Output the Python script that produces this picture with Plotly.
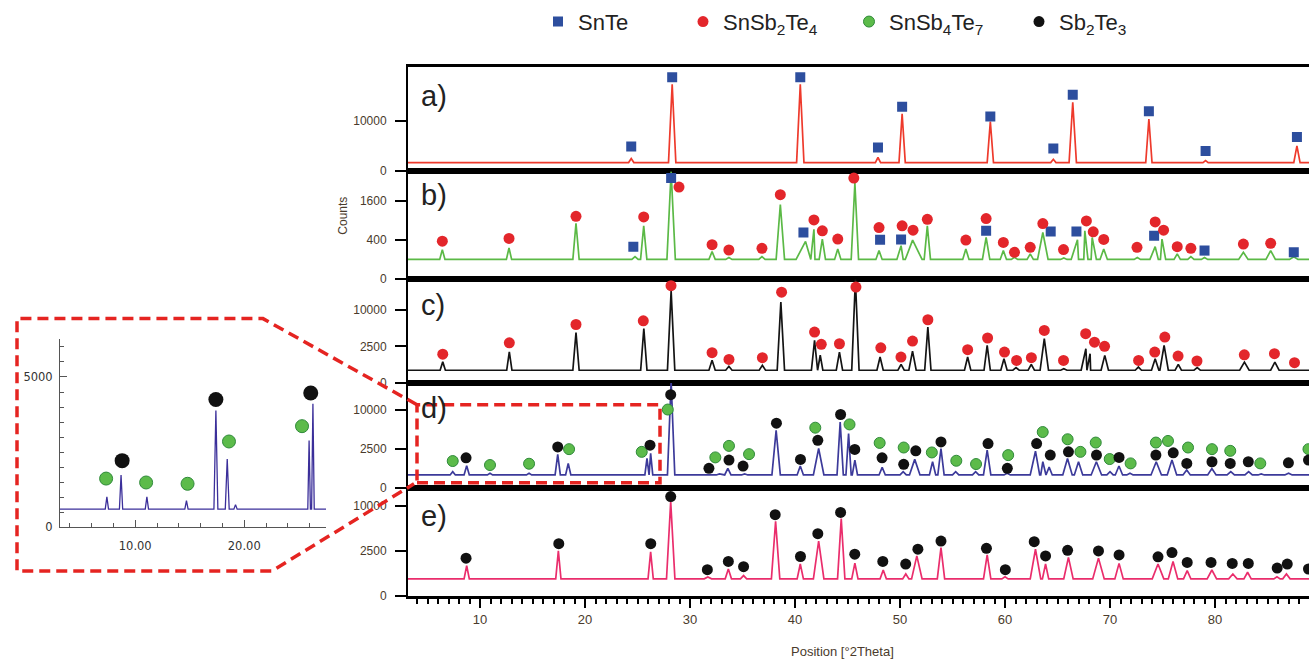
import numpy as np
import plotly.graph_objects as go

W, H = 1309, 666
X_RANGE = [3.14, 88.95]

# ===================== DATA (counts) =====================
# a) SnTe pattern
a_peak_pos = [24.4, 28.3, 40.5, 47.9, 50.2, 58.6, 64.6, 66.45, 73.7, 79.1, 87.8]
a_peak_counts = [625, 29400, 29400, 730, 12800, 9600, 550, 18500, 10600, 440, 2500]
a_peak_halfwidth = [0.25, 0.35, 0.35, 0.25, 0.3, 0.3, 0.25, 0.35, 0.3, 0.25, 0.3]
a_baseline = 290
a_snte_x = [24.4, 28.3, 40.5, 47.9, 50.2, 58.6, 64.6, 66.45, 73.7, 79.1, 87.8]
a_snte_y = [2380, 34300, 34300, 2190, 16200, 11600, 2010, 22700, 14000, 1570, 4570]

# b) pattern
b_peak_pos = [6.41, 12.76, 19.14, 24.76, 25.59, 28.2, 32.1, 33.7, 36.85, 38.6,
              41.0, 41.8, 42.6, 44.07, 45.7, 48.0, 50.1, 51.2, 52.6, 56.27,
              58.2, 59.84, 60.9, 62.4, 63.6, 65.6, 66.9, 67.6, 68.3, 69.4,
              72.6, 74.3, 74.95, 76.4, 77.7, 79.0, 82.7, 85.3, 87.5]
b_peak_counts = [225, 250, 808, 131, 735, 3000, 196, 120, 131, 1445,
                 368, 645, 415, 234, 2400, 210, 290, 393, 735, 234,
                 450, 210, 123, 164, 563, 115, 400, 605, 450, 234,
                 121, 272, 415, 164, 130, 120, 186, 210, 130]
b_peak_halfwidth = [0.25, 0.25, 0.3, 0.3, 0.3, 0.4, 0.3, 0.3, 0.3, 0.4,
                    0.9, 0.3, 0.3, 0.3, 0.35, 0.3, 0.4, 0.9, 0.3, 0.3,
                    0.35, 0.3, 0.3, 0.3, 0.5, 0.3, 0.6, 0.6, 0.4, 0.35,
                    0.3, 0.5, 0.35, 0.3, 0.3, 0.3, 0.45, 0.45, 0.4]
b_baseline = 100
b_snte_x = [24.6, 28.2, 40.8, 48.1, 50.1, 58.2, 64.35, 66.8, 74.2, 79.0, 87.5]
b_snte_y = [272, 2650, 563, 400, 405, 605, 588, 588, 486, 210, 186]
b_snsb2te4_x = [6.41, 12.76, 19.14, 25.59, 28.95, 32.1, 33.7, 36.85, 38.6, 41.8,
                42.6, 44.07, 45.6, 48.0, 50.2, 51.24, 52.6, 56.27, 58.2, 59.84,
                60.9, 62.4, 63.6, 65.57, 67.75, 68.4, 69.4, 72.57, 74.3, 75.1,
                76.4, 77.7, 82.7, 85.3]
b_snsb2te4_y = [373, 429, 1023, 1003, 2200, 307, 219, 245, 1850, 910,
                605, 415, 2650, 690, 735, 620, 927, 394, 949, 349,
                186, 261, 800, 225, 878, 580, 408, 261, 849, 620,
                272, 245, 318, 331]

# c) pattern
c_peak_pos = [6.45, 12.79, 19.14, 25.6, 28.2, 32.1, 33.7, 36.89, 38.65, 41.86,
              42.4, 44.23, 45.75, 48.1, 50.1, 51.19, 52.65, 56.44, 58.3, 59.9,
              61.05, 62.5, 63.74, 65.6, 67.7, 68.1, 69.5, 72.7, 74.3, 75.15,
              76.5, 78.3, 82.8, 85.7, 87.6]
c_peak_counts = [828, 1805, 4750, 5530, 15900, 970, 515, 577, 12200, 3380,
                 1430, 1780, 20000, 1250, 645, 1900, 5830, 1250, 2640, 1100,
                 433, 645, 3650, 380, 2190, 1600, 1420, 472, 1100, 2640,
                 645, 433, 812, 812, 300]
c_peak_halfwidth = [0.25, 0.25, 0.3, 0.3, 0.35, 0.3, 0.3, 0.3, 0.35, 0.3,
                    0.25, 0.3, 0.35, 0.3, 0.3, 0.35, 0.3, 0.3, 0.3, 0.3,
                    0.3, 0.3, 0.4, 0.3, 0.45, 0.3, 0.35, 0.3, 0.35, 0.4,
                    0.3, 0.3, 0.45, 0.4, 0.3]
c_baseline = 300
c_snsb2te4_x = [6.45, 12.79, 19.14, 25.55, 28.19, 32.1, 33.71, 36.89, 38.72, 41.86,
                42.5, 44.23, 45.8, 48.17, 50.09, 51.19, 52.65, 56.44, 58.34, 59.95,
                61.1, 62.51, 63.74, 65.57, 67.68, 68.52, 69.48, 72.72, 74.26, 75.22,
                76.48, 78.28, 82.79, 85.66, 87.57]
c_snsb2te4_y = [1545, 3000, 6380, 7210, 17660, 1710, 1035, 1190, 15400, 4830,
                2780, 2870, 17150, 2310, 1250, 3280, 7460, 2060, 3770, 1780,
                950, 1190, 5150, 950, 4530, 3110, 2500, 950, 1780, 3930,
                1350, 900, 1480, 1600, 767]

# d) pattern
d_peak_pos = [7.4, 8.73, 10.95, 14.67, 17.4, 18.4, 25.9, 26.25, 28.2, 32.8,
              33.6, 35.2, 38.2, 40.5, 42.25, 44.3, 45.1, 45.7, 48.3, 50.3,
              51.4, 53.1, 53.9, 55.3, 57.2, 58.3, 60.2, 62.9, 63.6, 64.2,
              65.95, 67.0, 68.7, 70.0, 70.85, 71.9, 74.4, 75.9, 77.3, 79.7,
              81.5, 83.2, 84.4, 87.0]
d_peak_counts = [425, 796, 346, 346, 1820, 975, 1410, 1930, 18500, 313,
                 622, 313, 5390, 775, 2520, 7050, 4790, 1256, 686, 425,
                 1320, 1110, 2520, 425, 425, 2310, 346, 2190, 1110, 700,
                 1410, 1110, 1110, 425, 775, 346, 1110, 1256, 520, 600,
                 425, 425, 313, 346]
d_peak_halfwidth = [0.25, 0.25, 0.25, 0.25, 0.25, 0.25, 0.2, 0.2, 0.35, 0.3,
                    0.3, 0.3, 0.4, 0.3, 0.5, 0.3, 0.25, 0.25, 0.3, 0.3,
                    0.5, 0.3, 0.3, 0.3, 0.3, 0.35, 0.3, 0.5, 0.3, 0.3,
                    0.45, 0.4, 0.5, 0.3, 0.35, 0.3, 0.5, 0.45, 0.35, 0.4,
                    0.35, 0.35, 0.3, 0.35]
d_baseline = 270
d_sb2te3_x = [8.67, 17.4, 26.19, 28.16, 31.8, 33.71, 35.05, 38.23, 40.52, 42.17,
              44.34, 45.69, 48.29, 50.35, 51.5, 53.9, 58.38, 60.22, 63.01, 64.31,
              66.04, 68.71, 70.86, 74.37, 76.02, 77.31, 79.71, 81.45, 83.17, 86.99, 88.9]
d_sb2te3_y = [1470, 2730, 2960, 14160, 622, 1256, 775, 6830, 1320, 3690,
              8770, 2400, 1470, 900, 2230, 3430, 3200, 622, 3200, 1745,
              2110, 1745, 1510, 1745, 2000, 975, 1110, 975, 1110, 1024, 1256]
d_snsb4te7_x = [7.4, 10.95, 14.67, 18.48, 25.4, 27.88, 32.41, 33.71, 35.62, 41.93,
                45.19, 48.06, 50.35, 53.03, 55.36, 57.24, 60.3, 63.59, 65.96, 67.18,
                68.64, 69.97, 71.96, 74.37, 75.52, 77.43, 79.71, 81.45, 84.31, 88.9]
d_snsb4te7_y = [1170, 847, 946, 2440, 2110, 10000, 1510, 2870, 1850, 5900,
                6560, 3290, 2650, 2040, 1195, 923, 1745, 5080, 3850, 2110,
                3345, 1350, 975, 3345, 3585, 2650, 2440, 2230, 975, 2440]

# e) pattern
e_peak_pos = [8.73, 17.46, 26.25, 28.16, 31.7, 33.65, 35.1, 38.15, 40.5, 42.25,
              44.4, 45.7, 48.4, 50.55, 51.6, 53.9, 58.3, 60.0, 62.9, 63.86,
              66.04, 68.9, 70.86, 74.57, 76.0, 77.35, 79.7, 81.7, 83.1, 85.9, 86.8]
e_peak_counts = [1110, 2480, 2370, 10970, 430, 880, 500, 6850, 1240, 3690,
                 7350, 1315, 816, 585, 1960, 2860, 2060, 440, 2670, 1240,
                 1810, 1745, 1290, 1240, 1450, 773, 816, 585, 677, 440, 585]
e_peak_halfwidth = [0.25, 0.25, 0.25, 0.4, 0.35, 0.3, 0.3, 0.4, 0.3, 0.5,
                    0.35, 0.3, 0.3, 0.3, 0.5, 0.35, 0.35, 0.3, 0.5, 0.3,
                    0.45, 0.55, 0.4, 0.55, 0.45, 0.35, 0.45, 0.4, 0.35, 0.3, 0.35]
e_baseline = 350
e_sb2te3_x = [8.67, 17.5, 26.26, 28.16, 31.65, 33.65, 35.1, 38.11, 40.52, 42.17,
              44.34, 45.69, 48.36, 50.54, 51.7, 53.9, 58.23, 60.03, 62.78, 63.86,
              65.96, 68.9, 70.86, 74.57, 75.9, 77.35, 79.62, 81.64, 83.17, 85.92, 86.88, 88.9]
e_sb2te3_y = [1745, 3350, 3350, 12150, 835, 1450, 1037, 8120, 1900, 4750,
              8580, 2130, 1450, 1240, 2670, 3690, 2780, 835, 3610, 1960,
              2550, 2480, 2060, 1865, 2300, 1370, 1370, 1290, 1290, 947, 1240, 880]

# inset (zoom of d, linear counts)
inset_peak_pos = [7.4, 8.7, 11.07, 14.7, 17.4, 18.44, 19.2, 25.95, 26.3]
inset_peak_counts = [1017, 1742, 1017, 887, 3884, 2272, 757, 2889, 4112]
inset_peak_halfwidth = [0.15, 0.15, 0.15, 0.15, 0.18, 0.18, 0.15, 0.12, 0.12]
inset_baseline = 606
inset_sb2te3_x = [8.8, 17.4, 26.1]
inset_sb2te3_y = [2218, 4252, 4469]
inset_snsb4te7_x = [7.33, 11.0, 14.8, 18.6, 25.3]
inset_snsb4te7_y = [1623, 1493, 1450, 2856, 3365]

a_y_ticks = [0, 10000]
b_y_ticks = [0, 400, 1600]
cde_y_ticks = [0, 2500, 10000]
inset_x_ticks = [10, 20]
inset_y_ticks = [0, 5000]
main_x_ticks = [10, 20, 30, 40, 50, 60, 70, 80]

# ===================== helpers =====================
def px(x):
    return x / W


def py(y):
    return 1 - y / H


def build_profile(pos, counts, halfw, base, lo, hi):
    pts = [(lo, base), (hi, base)]
    for p, c, w in zip(pos, counts, halfw):
        pts.extend([(p - w, base), (p, c), (p + w, base)])
    pts.sort(key=lambda t: t[0])
    return [t[0] for t in pts], [t[1] for t in pts]


PHASE = {
    "SnTe": dict(name="SnTe", legend="legend",
                 marker=dict(symbol="square", size=10, color="#2D4E9E")),
    "SnSb2Te4": dict(name="SnSb<sub>2</sub>Te<sub>4</sub>", legend="legend2",
                     marker=dict(symbol="circle", size=11, color="#E3262B")),
    "SnSb4Te7": dict(name="SnSb<sub>4</sub>Te<sub>7</sub>", legend="legend3",
                     marker=dict(symbol="circle", size=11, color="#5CBB4A",
                                 line=dict(color="#2F8A3A", width=1))),
    "Sb2Te3": dict(name="Sb<sub>2</sub>Te<sub>3</sub>", legend="legend4",
                   marker=dict(symbol="circle", size=11, color="#111111")),
}
shown = set()

TICK_COLOR = "#4a3b2c"
FONT = "Arial, Liberation Sans, sans-serif"

panels = [
    dict(pos=a_peak_pos, cnt=a_peak_counts, hw=a_peak_halfwidth, base=a_baseline,
         color="#EE3A2C", top=68, bot=173, smax=205, ticks=a_y_ticks, label="a)", label_y=97,
         markers=[("SnTe", a_snte_x, a_snte_y)]),
    dict(pos=b_peak_pos, cnt=b_peak_counts, hw=b_peak_halfwidth, base=b_baseline,
         color="#5BB946", top=173, bot=282, smax=55, ticks=b_y_ticks, label="b)", label_y=197,
         markers=[("SnTe", b_snte_x, b_snte_y), ("SnSb2Te4", b_snsb2te4_x, b_snsb2te4_y)]),
    dict(pos=c_peak_pos, cnt=c_peak_counts, hw=c_peak_halfwidth, base=c_baseline,
         color="#141414", top=282, bot=387, smax=142, ticks=cde_y_ticks, label="c)", label_y=308,
         markers=[("SnSb2Te4", c_snsb2te4_x, c_snsb2te4_y)]),
    dict(pos=d_peak_pos, cnt=d_peak_counts, hw=d_peak_halfwidth, base=d_baseline,
         color="#3C3A9A", top=387, bot=493, smax=134, ticks=cde_y_ticks, label="d)", label_y=412,
         markers=[("SnSb4Te7", d_snsb4te7_x, d_snsb4te7_y), ("Sb2Te3", d_sb2te3_x, d_sb2te3_y)]),
    dict(pos=e_peak_pos, cnt=e_peak_counts, hw=e_peak_halfwidth, base=e_baseline,
         color="#EA2D6C", top=493, bot=602, smax=120, ticks=cde_y_ticks, label="e)", label_y=521,
         markers=[("Sb2Te3", e_sb2te3_x, e_sb2te3_y)]),
]

fig = go.Figure()
layout = dict(
    width=W, height=H, autosize=False,
    margin=dict(l=0, r=0, t=0, b=0),
    paper_bgcolor="white", plot_bgcolor="white",
    showlegend=True,
)
annotations = []

for i, pnl in enumerate(panels, start=1):
    xs, ys = build_profile(pnl["pos"], pnl["cnt"], pnl["hw"], pnl["base"], X_RANGE[0] - 1, X_RANGE[1] + 1)
    xa, ya = f"x{i}", f"y{i}"
    fig.add_trace(go.Scatter(x=xs, y=np.sqrt(ys), mode="lines", xaxis=xa, yaxis=ya,
                             line=dict(color=pnl["color"], width=1.7), showlegend=False,
                             hoverinfo="skip"))
    for phase, mx, my in pnl["markers"]:
        st = PHASE[phase]
        fig.add_trace(go.Scatter(x=mx, y=np.sqrt(my), mode="markers", xaxis=xa, yaxis=ya,
                                 marker=st["marker"], name=st["name"], legend=st["legend"],
                                 legendgroup=phase, showlegend=phase not in shown))
        shown.add(phase)
    last = i == len(panels)
    layout[f"xaxis{i}"] = dict(
        domain=[px(408), 1.0], range=X_RANGE, anchor=ya,
        showline=True, mirror=True, linecolor="black", linewidth=2.5,
        showgrid=False, zeroline=False,
        ticks="outside" if last else "", ticklen=10, tickwidth=2, tickcolor="black",
        tickvals=main_x_ticks if last else None,
        showticklabels=last,
        tickfont=dict(family=FONT, size=13, color=TICK_COLOR),
        minor=dict(dtick=1, tick0=0, ticks="outside", ticklen=6, tickwidth=1.5, tickcolor="black") if last else None,
    )
    layout[f"yaxis{i}"] = dict(
        domain=[py(pnl["bot"]), py(pnl["top"])], range=[0, pnl["smax"]], anchor=xa,
        showline=True, linecolor="black", linewidth=2, mirror=False,
        showgrid=False, zeroline=False,
        tickvals=list(np.sqrt(pnl["ticks"])), ticktext=[str(t) for t in pnl["ticks"]],
        ticks="outside", ticklen=11, tickwidth=2, tickcolor="black",
        ticklabelstandoff=6,
        tickfont=dict(family=FONT, size=12, color=TICK_COLOR),
    )
    annotations.append(dict(text=pnl["label"], xref="paper", yref="paper",
                            x=px(419), y=py(pnl["label_y"]), xanchor="left", yanchor="middle",
                            showarrow=False, font=dict(family=FONT, size=29, color="#222222")))

# ---- inset ----
ixs, iys = build_profile(inset_peak_pos, inset_peak_counts, inset_peak_halfwidth, inset_baseline, 3.1, 27.5)
fig.add_trace(go.Scatter(x=ixs, y=iys, mode="lines", xaxis="x6", yaxis="y6",
                         line=dict(color="#3B2F9A", width=1.3), showlegend=False, hoverinfo="skip"))
fig.add_trace(go.Scatter(x=inset_snsb4te7_x, y=inset_snsb4te7_y, mode="markers", xaxis="x6", yaxis="y6",
                         marker=dict(symbol="circle", size=13, color="#5CBB4A",
                                     line=dict(color="#2F8A3A", width=1)),
                         showlegend=False, hoverinfo="skip"))
fig.add_trace(go.Scatter(x=inset_sb2te3_x, y=inset_sb2te3_y, mode="markers", xaxis="x6", yaxis="y6",
                         marker=dict(symbol="circle", size=15, color="#111111"),
                         showlegend=False, hoverinfo="skip"))
INSET_FONT = dict(family="DejaVu Sans, Verdana, sans-serif", size=11.5, color="#333333")
layout["xaxis6"] = dict(
    domain=[px(60), px(326)], range=[3.1, 27.5], anchor="y6",
    showline=True, linecolor="#555555", linewidth=1, showgrid=False, zeroline=False,
    tickvals=inset_x_ticks, ticktext=[f"{v:.2f}" for v in inset_x_ticks],
    ticks="inside", ticklen=7, tickcolor="#555555", tickfont=INSET_FONT,
    ticklabelstandoff=8,
    minor=dict(dtick=2, tick0=0, ticks="inside", ticklen=4, tickcolor="#555555"),
)
layout["yaxis6"] = dict(
    domain=[py(533), py(343)], range=[0, 6250], anchor="x6",
    showline=True, linecolor="#555555", linewidth=1, showgrid=False, zeroline=False,
    tickvals=inset_y_ticks, ticks="inside", ticklen=7, tickcolor="#555555", tickfont=INSET_FONT,
    ticklabelstandoff=4,
    minor=dict(dtick=500, tick0=0, ticks="inside", ticklen=4, tickcolor="#555555"),
)

# ---- legends (one per phase, placed individually) ----
LEG_FONT = dict(family=FONT, size=22, color="#222222")
for key, xpix in [("legend", 538), ("legend2", 683), ("legend3", 849), ("legend4", 1019)]:
    layout[key] = dict(x=px(xpix), y=py(22), xanchor="left", yanchor="middle",
                       orientation="h", font=LEG_FONT, bgcolor="rgba(0,0,0,0)",
                       borderwidth=0, itemwidth=30)

# ---- axis titles ----
annotations.append(dict(text="Counts", xref="paper", yref="paper", x=px(343), y=py(218),
                        textangle=-90, showarrow=False, xanchor="center", yanchor="middle",
                        font=dict(family=FONT, size=12, color=TICK_COLOR)))
annotations.append(dict(text="Position [°2Theta]", xref="paper", yref="paper", x=px(842), y=py(658),
                        showarrow=False, xanchor="center", yanchor="middle",
                        font=dict(family=FONT, size=13, color=TICK_COLOR)))
layout["annotations"] = annotations

# ---- dashed zoom outline ----
RED = "#E52421"
dash_line = dict(color=RED, width=3.5, dash="11px,6px")
path = (f"M {px(417)},{py(409)} L {px(263)},{py(322)} L {px(17)},{py(322)} "
        f"L {px(17)},{py(577)} L {px(272)},{py(577)} L {px(414)},{py(489)}")
layout["shapes"] = [
    dict(type="rect", xref="paper", yref="paper", x0=px(417), x1=px(660), y0=py(488), y1=py(409),
         line=dash_line, fillcolor="rgba(0,0,0,0)", layer="above"),
    dict(type="path", xref="paper", yref="paper", path=path, line=dash_line, layer="above"),
]

fig.update_layout(**layout)
fig.write_html("out.html")
